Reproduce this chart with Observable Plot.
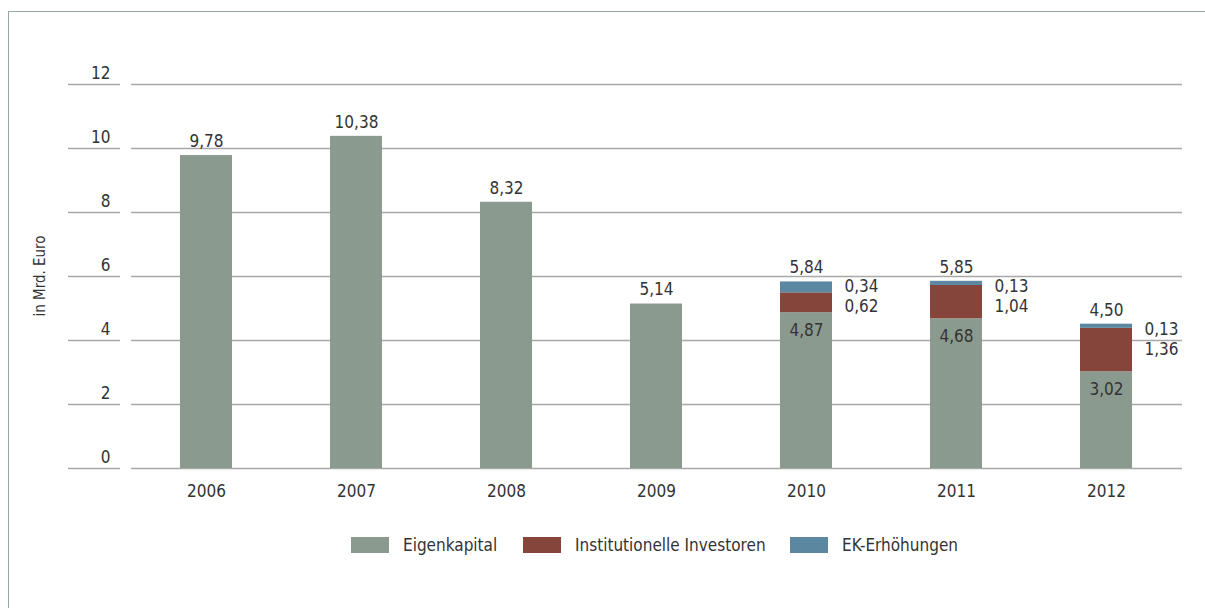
<!DOCTYPE html>
<html><head><meta charset="utf-8">
<script src="https://cdn.jsdelivr.net/npm/d3@7"></script>
<script src="https://cdn.jsdelivr.net/npm/@observablehq/plot@0.6"></script>
<style>
body{margin:0;background:#fff;font-family:"DejaVu Sans Condensed","DejaVu Sans",sans-serif;}
#wrap{position:relative;width:1205px;height:608px;overflow:hidden;}
#frame{position:absolute;left:8px;top:11px;width:1300px;height:700px;border-left:1px solid #9aa79e;border-top:1px solid #9aa79e;}
#chart{position:absolute;left:0;top:0;}
#legend{position:absolute;left:0;top:535px;width:1205px;height:20px;font-size:17px;color:#333;}
.sw{position:absolute;top:2px;width:38px;height:16px;}
.lt{position:absolute;top:0;line-height:20px;white-space:nowrap;}
#ylab{position:absolute;left:40px;top:276px;transform:translate(-50%,-50%) rotate(-90deg);font-size:15px;color:#333;white-space:nowrap;}
</style></head>
<body><div id="wrap"><div id="frame"></div><div id="chart"></div><div id="ylab">in Mrd. Euro</div><div id="legend"></div></div>
<script>
const years = ["2006","2007","2008","2009","2010","2011","2012"];
const eigenkapital = [9.78, 10.38, 8.32, 5.14, 4.87, 4.68, 3.02];
const institutionelle = [0, 0, 0, 0, 0.62, 1.04, 1.36];
const ekErhoehungen = [0, 0, 0, 0, 0.34, 0.13, 0.13];
const totals = [9.78, 10.38, 8.32, 5.14, 5.84, 5.85, 4.50];
const seriesNames = ["Eigenkapital", "Institutionelle Investoren", "EK-Erhöhungen"];
const seriesColors = ["#8b9a8f", "#85453a", "#5b87a1"];
const yTicks = [0, 2, 4, 6, 8, 10, 12];

const fmt = v => d3.format(".2f")(v).replace(".", ",");
const stacked = years.map((y, i) => institutionelle[i] > 0 || ekErhoehungen[i] > 0);

const rows = [];
[eigenkapital, institutionelle, ekErhoehungen].forEach((arr, s) => {
  arr.forEach((v, i) => { if (v > 0) rows.push({year: years[i], series: seriesNames[s], value: v}); });
});
const totalRows = years.map((y, i) => ({year: y, total: totals[i], ek: eigenkapital[i], inst: institutionelle[i], erh: ekErhoehungen[i], stacked: stacked[i]}));

const font = '"DejaVu Sans Condensed","DejaVu Sans",sans-serif';
const chart = Plot.plot({
  width: 1205, height: 510,
  marginLeft: 131, marginRight: 23, marginTop: 84, marginBottom: 42,
  style: {fontFamily: font, fontSize: "17px", color: "#333", background: "transparent"},
  x: {domain: years, paddingInner: 0.653, paddingOuter: 0.3265, label: null},
  y: {domain: [0, 12], label: null},
  color: {domain: seriesNames, range: seriesColors},
  marks: [
    Plot.gridY(yTicks, {stroke: "#a8a8a8", strokeOpacity: 1, strokeWidth: 1.5}),
    Plot.axisY(yTicks, {tickSize: 52, dx: -11, stroke: "#a8a8a8", strokeWidth: 1.5, tickFormat: () => ""}),
    Plot.axisY(yTicks, {tickSize: 0, textAnchor: "end", dx: -12, dy: -11, fontSize: 17, fill: "#333", tickFormat: d => String(d)}),
    Plot.barY(rows, {x: "year", y: "value", fill: "series", order: seriesNames}),
    Plot.axisX({tickSize: 0, tickPadding: 16, fontSize: 17, fill: "#333"}),
    Plot.text(totalRows, {x: "year", y: "total", text: d => fmt(d.total), dy: -14, fill: "#333", fontSize: 17}),
    Plot.text(totalRows.filter(d => d.stacked), {x: "year", y: "ek", text: d => fmt(d.ek), dy: 18, fill: "#333", fontSize: 17}),
    Plot.text(totalRows.filter(d => d.stacked), {x: "year", y: "total", text: d => fmt(d.erh), dx: 38, dy: 5, textAnchor: "start", fill: "#333", fontSize: 17}),
    Plot.text(totalRows.filter(d => d.stacked), {x: "year", y: "total", text: d => fmt(d.inst), dx: 38, dy: 25, textAnchor: "start", fill: "#333", fontSize: 17})
  ]
});
document.getElementById("chart").appendChild(chart);

const legendPos = [[351, 403], [523, 575], [790, 842]];
const legend = document.getElementById("legend");
seriesNames.forEach((n, i) => {
  const sw = document.createElement("div"); sw.className = "sw"; sw.style.left = legendPos[i][0] + "px"; sw.style.background = seriesColors[i];
  const t = document.createElement("div"); t.className = "lt"; t.style.left = legendPos[i][1] + "px"; t.textContent = n;
  legend.appendChild(sw); legend.appendChild(t);
});
</script></body></html>
